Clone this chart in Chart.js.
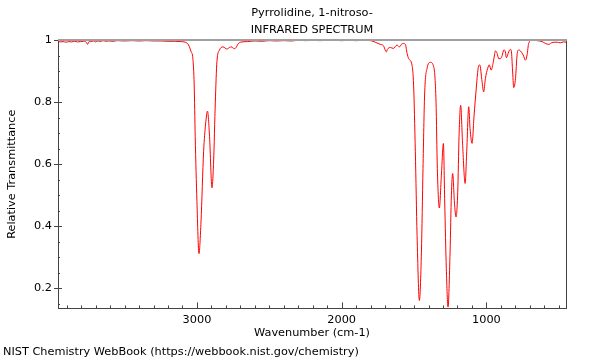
<!DOCTYPE html>
<html>
<head>
<meta charset="utf-8">
<script src="https://cdn.jsdelivr.net/npm/chart.js@4.4.1/dist/chart.umd.min.js"></script>
<style>
  html, body { margin: 0; padding: 0; background: #fff; }
  #wrap { width: 600px; height: 360px; }
</style>
</head>
<body>
<div id="wrap"><canvas id="irChart" width="600" height="360"></canvas></div>
<script>
// Datos del espectro (leídos a ojo del original)
const wavenumbers = [
  3960, 3945, 3925, 3905, 3885, 3865, 3845, 3825, 3805, 3785, 3765, 3755, 3748, 3735, 3715, 3700,
  3685, 3665, 3650, 3630, 3610, 3580, 3550, 3500, 3450, 3400, 3350, 3300, 3250, 3200, 3150, 3115,
  3080, 3058, 3040, 3028, 3019, 3012, 3000, 2986, 2972, 2954, 2940, 2927, 2913, 2896, 2885, 2873,
  2862, 2844, 2820, 2805, 2793, 2775, 2758, 2745, 2735, 2715, 2700, 2650, 2600, 2550, 2500, 2450,
  2400, 2350, 2300, 2250, 2200, 2150, 2100, 2050, 2000, 1950, 1900, 1850, 1800, 1768, 1733, 1712,
  1691, 1684, 1664, 1643, 1618, 1601, 1587, 1574, 1560, 1548, 1537, 1514, 1503, 1491, 1479, 1463,
  1449, 1438, 1427, 1410, 1387, 1364, 1348, 1339, 1325, 1311, 1297, 1288, 1277, 1265, 1251, 1242,
  1233, 1221, 1210, 1198, 1189, 1178, 1164, 1147, 1136, 1122, 1113, 1099, 1085, 1071, 1057, 1046,
  1030, 1019, 1007, 991, 980, 967, 954, 944, 938, 926, 915, 903, 891, 880, 869, 862,
  853, 846, 834, 827, 820, 811, 799, 788, 777, 765, 746, 730, 719, 708, 684, 650,
  615, 592, 569, 546, 511, 490, 466, 450
];
const transmittance = [
  0.995, 0.994, 0.995, 0.993, 0.995, 0.994, 0.996, 0.994, 0.995, 0.996, 0.993, 0.986, 0.994, 0.995, 0.997, 0.994,
  0.997, 0.995, 0.998, 0.996, 0.997, 0.996, 0.998, 0.997, 0.998, 0.997, 0.998, 0.997, 0.997, 0.996, 0.996, 0.995,
  0.993, 0.984, 0.962, 0.94, 0.855, 0.69, 0.48, 0.312, 0.414, 0.64, 0.73, 0.771, 0.69, 0.524, 0.607, 0.80,
  0.93, 0.968, 0.978, 0.974, 0.971, 0.976, 0.978, 0.972, 0.973, 0.988, 0.993, 0.995, 0.997, 0.996, 0.998, 0.997,
  0.998, 0.997, 0.999, 0.998, 0.999, 0.998, 0.999, 0.999, 0.998, 0.999, 0.998, 0.999, 0.998, 0.993, 0.986, 0.982,
  0.962, 0.97, 0.976, 0.973, 0.984, 0.978, 0.986, 0.989, 0.986, 0.957, 0.94, 0.919, 0.855, 0.64, 0.371, 0.161,
  0.317, 0.586, 0.823, 0.909, 0.928, 0.914, 0.80, 0.586, 0.459, 0.565, 0.667, 0.478, 0.265, 0.14, 0.317, 0.50,
  0.57, 0.478, 0.43, 0.51, 0.69, 0.79, 0.66, 0.538, 0.64, 0.785, 0.715, 0.667, 0.758, 0.839, 0.909, 0.92,
  0.866, 0.833, 0.876, 0.909, 0.92, 0.903, 0.925, 0.952, 0.965, 0.957, 0.94, 0.94, 0.95, 0.968, 0.962, 0.943,
  0.952, 0.962, 0.97, 0.962, 0.909, 0.847, 0.876, 0.952, 0.968, 0.965, 0.952, 0.935, 0.952, 0.989, 1.0, 0.998,
  0.995, 0.989, 0.986, 0.992, 0.993, 0.991, 0.994, 0.993
];

const titleLines = ['Pyrrolidine, 1-nitroso-', 'INFRARED SPECTRUM'];
const footerText = 'NIST Chemistry WebBook (https://webbook.nist.gov/chemistry)';
const xRange = [450, 3960];
const yRange = [0.1355, 1.0];
const xTickValues = [1000, 2000, 3000];
const xMinorStep = 100;

const FONT = "'DejaVu Sans', sans-serif";
const FSIZE = 11.3;

const isMajorY = v => Math.abs(v * 5 - Math.round(v * 5)) < 1e-6;

// Marcas hacia dentro + marco (arriba gris, derecha oscuro)
const frameTicks = {
  id: 'frameTicks',
  afterDraw(chart) {
    const { ctx, chartArea: a, scales: { x, y } } = chart;
    ctx.save();
    ctx.strokeStyle = '#444';
    ctx.lineWidth = 1;
    ctx.beginPath();
    // marcas menores cada 100 y mayores en xTickValues
    for (let v = Math.ceil(x.min / xMinorStep) * xMinorStep; v <= x.max; v += xMinorStep) {
      const px = Math.round(x.getPixelForValue(v)) + 0.5;
      ctx.moveTo(px, a.bottom);
      ctx.lineTo(px, a.bottom - (xTickValues.includes(v) ? 6 : 3));
    }
    y.ticks.forEach(t => {
      const py = Math.round(y.getPixelForValue(t.value)) + 0.5;
      const major = isMajorY(t.value);
      ctx.moveTo(a.left - (major ? 4 : 0), py);
      ctx.lineTo(a.left + (major ? 4 : 2), py);
    });
    // borde derecho
    ctx.moveTo(a.right + 0.5, a.top);
    ctx.lineTo(a.right + 0.5, a.bottom);
    ctx.stroke();
    // borde superior gris
    ctx.strokeStyle = '#a0a0a0';
    ctx.lineWidth = 2;
    ctx.beginPath();
    ctx.moveTo(a.left, a.top);
    ctx.lineTo(a.right + 1, a.top);
    ctx.stroke();
    ctx.restore();
  }
};

const ctx = document.getElementById('irChart').getContext('2d');
new Chart(ctx, {
  type: 'line',
  data: {
    datasets: [{
      data: wavenumbers.map((w, i) => ({ x: w, y: transmittance[i] })),
      borderColor: '#ff0000',
      borderWidth: 1,
      pointRadius: 0,
      cubicInterpolationMode: 'monotone',
      fill: false
    }]
  },
  options: {
    responsive: false,
    animation: false,
    layout: { padding: { left: 3, right: 34, top: 0, bottom: 0 } },
    plugins: {
      legend: { display: false },
      tooltip: { enabled: false },
      title: {
        display: true,
        text: titleLines,
        fullSize: false,
        color: '#000',
        font: { family: FONT, size: FSIZE, weight: 'normal', lineHeight: 1.55 },
        padding: { top: 4, bottom: 1 }
      },
      subtitle: {
        display: true,
        text: footerText,
        position: 'bottom',
        align: 'start',
        color: '#000',
        font: { family: FONT, size: FSIZE, weight: 'normal' },
        padding: { top: 2, bottom: 1 }
      }
    },
    scales: {
      x: {
        type: 'linear',
        reverse: true,
        min: xRange[0],
        max: xRange[1],
        afterBuildTicks: s => { s.ticks = xTickValues.map(v => ({ value: v })); },
        afterFit: s => { s.height = 35; },
        border: { display: true, color: '#444', width: 1 },
        grid: { display: false, drawTicks: false },
        ticks: {
          autoSkip: false,
          maxRotation: 0,
          padding: 5,
          color: '#000',
          font: { family: FONT, size: FSIZE },
          callback: v => String(v)
        },
        title: {
          display: true,
          text: 'Wavenumber (cm-1)',
          color: '#000',
          font: { family: FONT, size: FSIZE },
          padding: { top: 0, bottom: 4 }
        }
      },
      y: {
        type: 'linear',
        min: yRange[0],
        max: yRange[1],
        afterFit: s => { s.width = 55; },
        border: { display: true, color: '#444', width: 1 },
        grid: { display: false, drawTicks: false },
        ticks: {
          stepSize: 0.05,
          includeBounds: false,
          autoSkip: false,
          padding: 6,
          color: '#000',
          font: { family: FONT, size: FSIZE },
          callback: v => (isMajorY(v) ? String(+v.toFixed(1)) : '')
        },
        title: {
          display: true,
          text: 'Relative Transmittance',
          color: '#000',
          font: { family: FONT, size: FSIZE },
          padding: { top: 2, bottom: 4 }
        }
      }
    }
  },
  plugins: [frameTicks]
});
</script>
</body>
</html>
